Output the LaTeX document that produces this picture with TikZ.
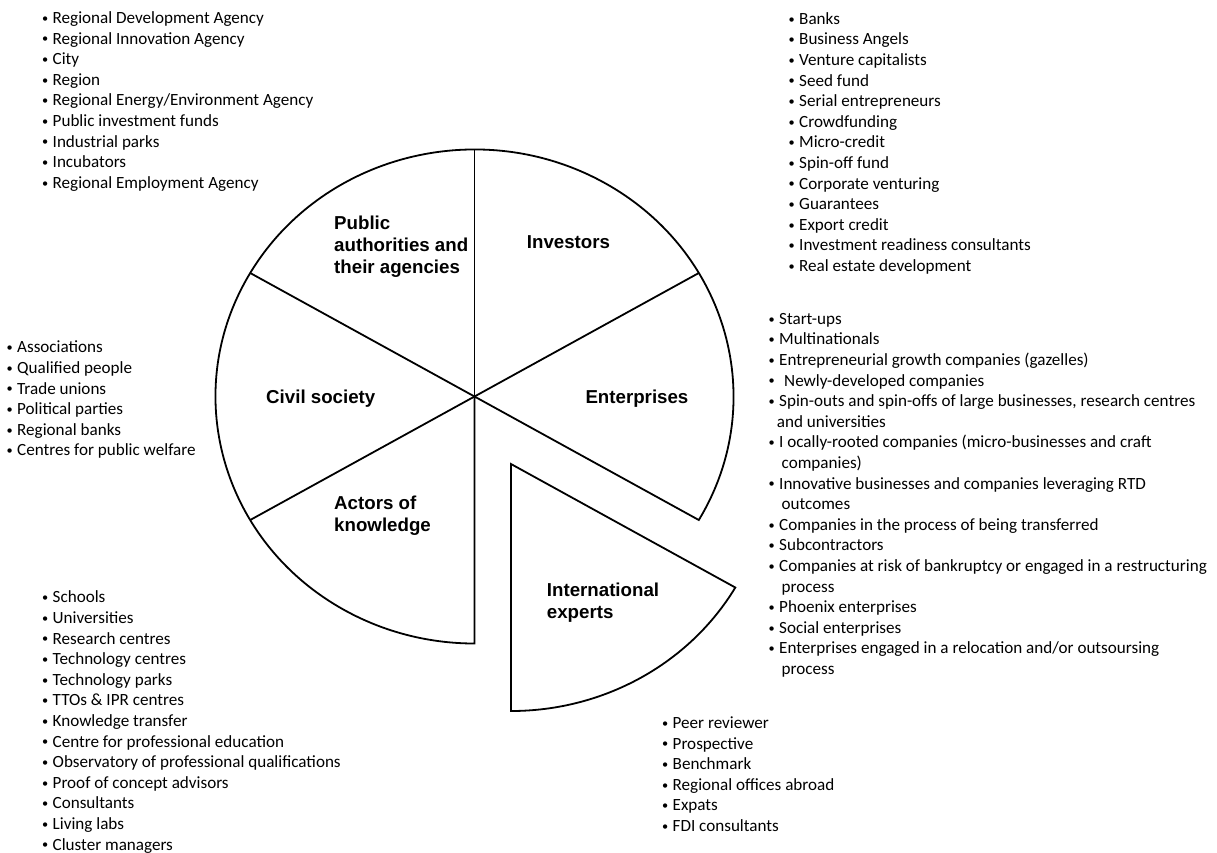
\documentclass[tikz,border=0pt]{standalone}
\usepackage{fontspec}
\setmainfont{Carlito}
\newfontfamily\labfont{Liberation Sans}
\newcommand{\bul}{\makebox[11pt][l]{\hspace{0.5pt}\raisebox{1.2pt}{\scalebox{0.72}{\textbullet}}}}
\begin{document}
\begin{tikzpicture}[x=1pt,y=-1pt,
  pieline/.style={line width=1.8pt,line join=miter},
  seglabel/.style={font=\labfont\bfseries\fontsize{18.7}{22}\selectfont,inner sep=0pt,align=left},
  itemlist/.style={font=\fontsize{17.1}{20.6}\selectfont,inner sep=0pt,align=left,anchor=north west}]
\fill[white] (0,0) rectangle (1217,852);
\useasboundingbox (0,0) rectangle (1217,852);
% pie
\coordinate (C) at (474.5,396.5);
\coordinate (A) at (511,464);
\draw[pieline] (C) -- ++(30:259 and 247) arc[start angle=30,end angle=-270,x radius=259,y radius=247] -- cycle;
\draw[pieline] (C) -- ++(-90:259 and 247);
\draw[pieline] (C) -- ++(-30:259 and 247);
\draw[pieline] (C) -- ++(-150:259 and 247);
\draw[pieline] (C) -- ++(-210:259 and 247);
\draw[pieline] (A) -- ++(90:259 and 247) arc[start angle=90,end angle=30,x radius=259,y radius=247] -- cycle;
% segment labels
\node[seglabel,anchor=north west] (pub) at (334,213.8) {\strut Public\\authorities and\\their agencies};
\node[seglabel,anchor=base west] (inv) at (526.7,248.5) {Investors};
\node[seglabel,anchor=base west] (civ) at (266,403.5) {Civil society};
\node[seglabel,anchor=base west] (ent) at (585.3,403.5) {Enterprises};
\node[seglabel,anchor=north west] (act) at (334,493.8) {\strut Actors of\\knowledge};
\node[seglabel,anchor=north west] (int) at (546.7,580.9) {\strut International\\experts};
% lists
\node[itemlist] (publist) at (41.5,8.9) {\strut\bul Regional Development Agency\\
\bul Regional Innovation Agency\\
\bul City\\
\bul Region\\
\bul Regional Energy/Environment Agency\\
\bul Public investment funds\\
\bul Industrial parks\\
\bul Incubators\\
\bul Regional Employment Agency};
\node[itemlist] (invlist) at (788,9.6) {\strut\bul Banks\\
\bul Business Angels\\
\bul Venture capitalists\\
\bul Seed fund\\
\bul Serial entrepreneurs\\
\bul Crowdfunding\\
\bul Micro-credit\\
\bul Spin-off fund\\
\bul Corporate venturing\\
\bul Guarantees\\
\bul Export credit\\
\bul Investment readiness consultants\\
\bul Real estate development};
\node[itemlist] (civlist) at (6,338.3) {\strut\bul Associations\\
\bul Qualified people\\
\bul Trade unions\\
\bul Political parties\\
\bul Regional banks\\
\bul Centres for public welfare};
\node[itemlist] (entlist) at (768,309.6) {\strut\bul Start-ups\\
\bul Multinationals\\
\bul Entrepreneurial growth companies (gazelles)\\
\bul\hspace{5pt}Newly-developed companies\\
\bul Spin-outs and spin-offs of large businesses, research centres\\
\hspace{8.7pt}and universities\\
\bul I ocally-rooted companies (micro-businesses and craft\\
\hspace{13.5pt}companies)\\
\bul Innovative businesses and companies leveraging RTD\\
\hspace{13.5pt}outcomes\\
\bul Companies in the process of being transferred\\
\bul Subcontractors\\
\bul Companies at risk of bankruptcy or engaged in a restructuring\\
\hspace{13.5pt}process\\
\bul Phoenix enterprises\\
\bul Social enterprises\\
\bul Enterprises engaged in a relocation and/or outsoursing\\
\hspace{13.5pt}process};
\node[itemlist] (actlist) at (41.5,588.3) {\strut\bul Schools\\
\bul Universities\\
\bul Research centres\\
\bul Technology centres\\
\bul Technology parks\\
\bul TTOs \& IPR centres\\
\bul Knowledge transfer\\
\bul Centre for professional education\\
\bul Observatory of professional qualifications\\
\bul Proof of concept advisors\\
\bul Consultants\\
\bul Living labs\\
\bul Cluster managers};
\node[itemlist] (intlist) at (661.5,713.9) {\strut\bul Peer reviewer\\
\bul Prospective\\
\bul Benchmark\\
\bul Regional offices abroad\\
\bul Expats\\
\bul FDI consultants};
\end{tikzpicture}
\end{document}
